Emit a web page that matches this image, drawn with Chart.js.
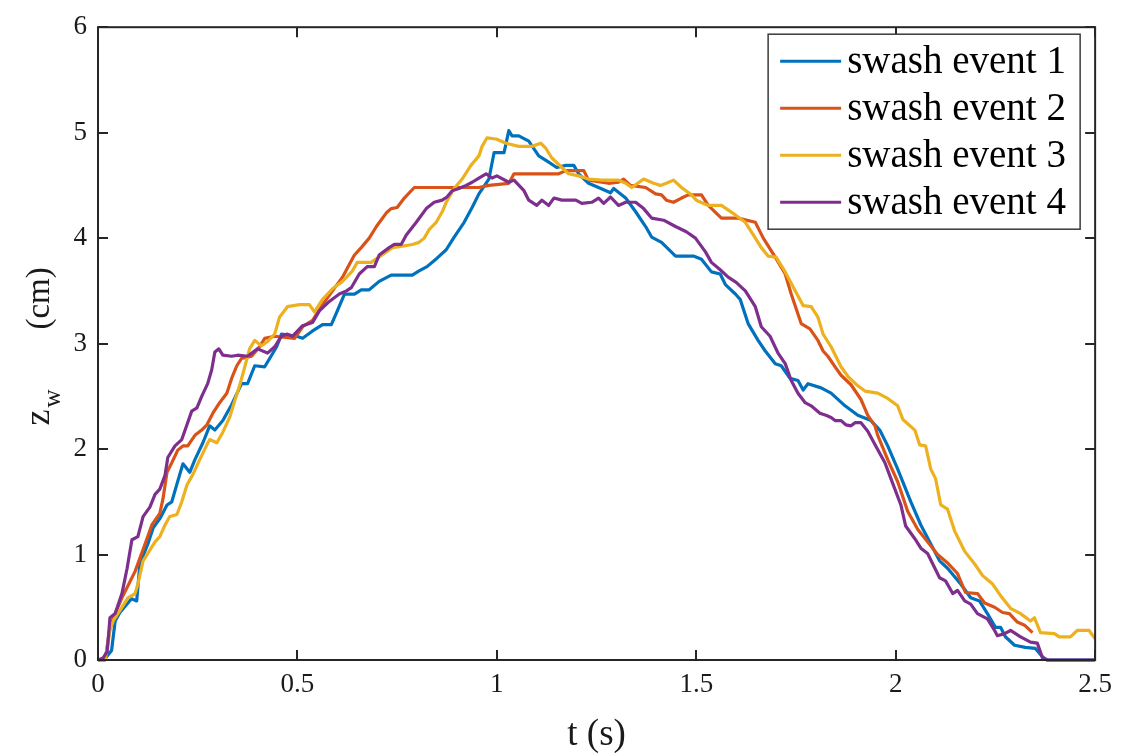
<!DOCTYPE html>
<html><head><meta charset="utf-8">
<script src="https://cdn.jsdelivr.net/npm/chart.js@4.4.1/dist/chart.umd.min.js"></script>
<style>html,body{margin:0;padding:0;background:#fff;}#wrap{width:1121px;height:754px;}</style>
</head><body><div id="wrap"><canvas id="c" width="1121" height="754"></canvas></div>
<script>
const seriesLabels = ['swash event 1','swash event 2','swash event 3','swash event 4'];
const seriesColors = ['#0072BD','#D95319','#EDB120','#7E2F8E'];
const xTicks = [0,0.5,1,1.5,2,2.5];
const xTickLabels = ['0','0.5','1','1.5','2','2.5'];
const yTicks = [0,1,2,3,4,5,6];
const xTitle = 't (s)';
const yTitleMain = 'z', yTitleSub = 'w', yTitleUnit = '(cm)';

// [t (s), z_w (cm)]
const swash1 = [[0,0],[0.015,0],[0.034,0.09],[0.043,0.37],[0.055,0.45],[0.084,0.58],[0.097,0.56],[0.105,0.91],[0.125,1.1],[0.138,1.25],[0.155,1.34],[0.173,1.47],[0.185,1.5],[0.198,1.67],[0.213,1.86],[0.23,1.78],[0.243,1.9],[0.263,2.06],[0.28,2.22],[0.293,2.18],[0.313,2.27],[0.335,2.42],[0.36,2.62],[0.375,2.62],[0.393,2.79],[0.418,2.78],[0.448,2.97],[0.46,3.09],[0.498,3.07],[0.513,3.05],[0.538,3.12],[0.563,3.18],[0.585,3.18],[0.6,3.31],[0.618,3.47],[0.643,3.47],[0.66,3.51],[0.68,3.51],[0.705,3.59],[0.735,3.65],[0.788,3.65],[0.805,3.69],[0.825,3.73],[0.85,3.81],[0.873,3.89],[0.893,4.01],[0.918,4.15],[0.938,4.29],[0.955,4.42],[0.98,4.56],[0.993,4.81],[1.018,4.81],[1.03,5.02],[1.038,4.97],[1.055,4.97],[1.08,4.92],[1.105,4.78],[1.13,4.72],[1.15,4.67],[1.173,4.69],[1.193,4.69],[1.205,4.61],[1.23,4.52],[1.255,4.48],[1.285,4.43],[1.293,4.47],[1.323,4.38],[1.348,4.25],[1.373,4.11],[1.388,4.01],[1.413,3.96],[1.448,3.83],[1.493,3.83],[1.513,3.8],[1.538,3.68],[1.56,3.66],[1.573,3.56],[1.598,3.47],[1.61,3.42],[1.63,3.19],[1.655,3.03],[1.673,2.93],[1.698,2.81],[1.713,2.79],[1.735,2.67],[1.755,2.65],[1.768,2.56],[1.78,2.62],[1.813,2.58],[1.838,2.53],[1.873,2.41],[1.905,2.32],[1.938,2.27],[1.96,2.18],[1.98,2.03],[2.005,1.81],[2.038,1.5],[2.063,1.28],[2.088,1.1],[2.11,0.94],[2.13,0.87],[2.163,0.72],[2.188,0.59],[2.21,0.56],[2.23,0.44],[2.25,0.31],[2.263,0.31],[2.275,0.22],[2.298,0.14],[2.325,0.12],[2.35,0.11],[2.368,0.03],[2.38,0],[2.5,0]];

const swash2 = [[0,0],[0.018,0],[0.03,0.31],[0.043,0.44],[0.06,0.59],[0.093,0.84],[0.118,1.1],[0.135,1.28],[0.155,1.39],[0.163,1.53],[0.173,1.78],[0.185,1.87],[0.2,1.99],[0.213,2.03],[0.225,2.03],[0.243,2.13],[0.26,2.18],[0.273,2.23],[0.288,2.34],[0.305,2.44],[0.323,2.53],[0.335,2.67],[0.348,2.79],[0.36,2.86],[0.385,2.88],[0.405,2.97],[0.418,3.05],[0.443,3.07],[0.493,3.05],[0.513,3.16],[0.538,3.22],[0.563,3.37],[0.588,3.5],[0.613,3.63],[0.63,3.75],[0.643,3.84],[0.66,3.91],[0.68,4.0],[0.698,4.11],[0.723,4.24],[0.735,4.28],[0.75,4.29],[0.768,4.38],[0.793,4.48],[0.955,4.48],[0.98,4.5],[1.03,4.52],[1.043,4.61],[1.155,4.61],[1.173,4.64],[1.218,4.64],[1.23,4.55],[1.28,4.52],[1.305,4.53],[1.318,4.56],[1.335,4.5],[1.373,4.48],[1.398,4.42],[1.413,4.41],[1.425,4.36],[1.443,4.34],[1.463,4.38],[1.48,4.41],[1.513,4.41],[1.53,4.31],[1.563,4.19],[1.605,4.19],[1.648,4.15],[1.668,4.0],[1.698,3.82],[1.723,3.66],[1.738,3.47],[1.763,3.19],[1.785,3.14],[1.805,3.03],[1.818,2.93],[1.83,2.88],[1.848,2.78],[1.863,2.7],[1.888,2.61],[1.913,2.47],[1.93,2.32],[1.948,2.22],[1.955,2.13],[1.98,1.9],[2.005,1.69],[2.03,1.41],[2.055,1.24],[2.08,1.12],[2.105,1.0],[2.13,0.92],[2.155,0.82],[2.175,0.64],[2.205,0.63],[2.223,0.54],[2.248,0.5],[2.268,0.45],[2.285,0.44],[2.305,0.36],[2.323,0.33],[2.343,0.26]];

const swash3 = [[0,0],[0.018,0],[0.03,0.28],[0.038,0.37],[0.06,0.5],[0.075,0.59],[0.093,0.63],[0.1,0.72],[0.113,0.94],[0.125,1.01],[0.143,1.12],[0.155,1.17],[0.168,1.28],[0.18,1.36],[0.198,1.38],[0.21,1.5],[0.223,1.66],[0.238,1.76],[0.255,1.9],[0.273,2.04],[0.28,2.09],[0.298,2.06],[0.313,2.16],[0.33,2.3],[0.343,2.46],[0.355,2.6],[0.368,2.78],[0.38,2.95],[0.393,3.03],[0.41,2.98],[0.425,3.02],[0.443,3.09],[0.455,3.25],[0.475,3.35],[0.505,3.37],[0.53,3.37],[0.543,3.3],[0.563,3.42],[0.588,3.52],[0.613,3.59],[0.638,3.69],[0.65,3.77],[0.685,3.77],[0.723,3.87],[0.738,3.91],[0.755,3.92],[0.788,3.94],[0.805,3.96],[0.818,4.0],[0.83,4.08],[0.848,4.15],[0.863,4.25],[0.873,4.34],[0.893,4.47],[0.913,4.56],[0.935,4.69],[0.955,4.78],[0.963,4.87],[0.975,4.95],[0.998,4.94],[1.023,4.9],[1.055,4.87],[1.088,4.87],[1.11,4.9],[1.123,4.85],[1.138,4.76],[1.163,4.67],[1.18,4.61],[1.205,4.59],[1.23,4.56],[1.263,4.55],[1.305,4.55],[1.323,4.52],[1.338,4.48],[1.368,4.56],[1.393,4.52],[1.41,4.5],[1.425,4.52],[1.443,4.55],[1.463,4.48],[1.488,4.41],[1.5,4.36],[1.53,4.31],[1.563,4.31],[1.598,4.22],[1.623,4.15],[1.643,4.03],[1.663,3.91],[1.68,3.83],[1.7,3.82],[1.723,3.68],[1.748,3.5],[1.768,3.36],[1.788,3.35],[1.805,3.25],[1.818,3.09],[1.838,2.97],[1.863,2.78],[1.88,2.69],[1.905,2.6],[1.923,2.55],[1.955,2.53],[1.98,2.48],[2.005,2.41],[2.018,2.28],[2.048,2.18],[2.06,2.04],[2.075,2.03],[2.088,1.81],[2.1,1.72],[2.113,1.47],[2.13,1.43],[2.148,1.22],[2.173,1.03],[2.198,0.91],[2.218,0.8],[2.243,0.72],[2.263,0.61],[2.288,0.49],[2.313,0.44],[2.338,0.37],[2.348,0.4],[2.363,0.26],[2.398,0.25],[2.41,0.22],[2.438,0.22],[2.455,0.28],[2.485,0.28],[2.5,0.2]];

const swash4 = [[0,0],[0.013,0.02],[0.023,0.08],[0.03,0.4],[0.043,0.44],[0.06,0.63],[0.073,0.87],[0.085,1.14],[0.1,1.17],[0.113,1.36],[0.13,1.45],[0.143,1.57],[0.155,1.62],[0.168,1.75],[0.175,1.92],[0.193,2.03],[0.21,2.09],[0.223,2.23],[0.235,2.36],[0.248,2.39],[0.26,2.5],[0.275,2.62],[0.285,2.75],[0.293,2.92],[0.303,2.95],[0.313,2.89],[0.335,2.88],[0.35,2.89],[0.375,2.88],[0.4,2.95],[0.425,2.91],[0.443,2.97],[0.46,3.07],[0.473,3.09],[0.488,3.07],[0.513,3.17],[0.538,3.2],[0.555,3.31],[0.58,3.4],[0.605,3.47],[0.623,3.5],[0.635,3.53],[0.655,3.66],[0.675,3.73],[0.693,3.73],[0.705,3.84],[0.73,3.91],[0.743,3.94],[0.76,3.94],[0.773,4.03],[0.798,4.15],[0.823,4.28],[0.843,4.34],[0.863,4.36],[0.875,4.39],[0.888,4.45],[0.905,4.47],[0.923,4.5],[0.938,4.53],[0.955,4.57],[0.973,4.61],[0.988,4.57],[1.0,4.59],[1.03,4.53],[1.043,4.55],[1.068,4.45],[1.08,4.36],[1.1,4.31],[1.113,4.36],[1.13,4.31],[1.143,4.38],[1.163,4.36],[1.198,4.36],[1.213,4.33],[1.238,4.34],[1.255,4.38],[1.268,4.33],[1.285,4.39],[1.305,4.31],[1.323,4.34],[1.348,4.34],[1.368,4.28],[1.388,4.19],[1.418,4.17],[1.448,4.11],[1.475,4.06],[1.498,4.0],[1.523,3.87],[1.538,3.77],[1.56,3.7],[1.58,3.63],[1.6,3.58],[1.623,3.5],[1.648,3.35],[1.663,3.16],[1.685,3.07],[1.705,2.91],[1.723,2.81],[1.738,2.65],[1.755,2.53],[1.773,2.44],[1.788,2.41],[1.81,2.34],[1.825,2.32],[1.838,2.3],[1.848,2.27],[1.863,2.27],[1.875,2.23],[1.888,2.22],[1.898,2.25],[1.913,2.25],[1.93,2.17],[1.95,2.03],[1.973,1.87],[1.988,1.72],[2.013,1.47],[2.025,1.27],[2.048,1.15],[2.063,1.06],[2.08,1.01],[2.093,0.91],[2.11,0.78],[2.125,0.75],[2.143,0.63],[2.155,0.66],[2.173,0.56],[2.188,0.53],[2.205,0.44],[2.23,0.39],[2.248,0.28],[2.255,0.23],[2.273,0.25],[2.288,0.28],[2.313,0.22],[2.338,0.17],[2.355,0.16],[2.368,0.02],[2.38,0],[2.5,0]];

const seriesData = [swash1, swash2, swash3, swash4];
const SERIF = "'Liberation Serif','Times New Roman',serif";
const AXIS_COLOR = '#262626';

const matlabAxes = {
  id: 'matlabAxes',
  afterDatasetsDraw(chart) {
    const {ctx, chartArea: a, scales: {x, y}} = chart;
    ctx.save();
    ctx.strokeStyle = AXIS_COLOR;
    ctx.lineWidth = 2;
    const tl = 10;
    ctx.beginPath();
    xTicks.forEach(v => {
      const px = Math.round(x.getPixelForValue(v));
      ctx.moveTo(px, a.bottom); ctx.lineTo(px, a.bottom - tl);
      ctx.moveTo(px, a.top); ctx.lineTo(px, a.top + tl);
    });
    yTicks.forEach(v => {
      const py = Math.round(y.getPixelForValue(v));
      ctx.moveTo(a.left, py); ctx.lineTo(a.left + tl, py);
      ctx.moveTo(a.right, py); ctx.lineTo(a.right - tl, py);
    });
    ctx.stroke();
    ctx.strokeRect(a.left, a.top, a.right - a.left, a.bottom - a.top);
    ctx.restore();
  },
  afterDraw(chart) {
    const {ctx, chartArea: a} = chart;
    ctx.save();
    // y-axis title with subscript, placed along the rotated baseline
    const cy = (a.top + a.bottom) / 2;
    ctx.translate(49, cy + 82);
    ctx.rotate(-Math.PI / 2);
    ctx.fillStyle = '#1a1a1a';
    ctx.textBaseline = 'alphabetic';
    ctx.textAlign = 'left';
    ctx.font = '36px ' + SERIF;
    ctx.fillText(yTitleMain, 0, 0);
    const wMain = ctx.measureText(yTitleMain).width;
    ctx.font = '25px ' + SERIF;
    ctx.fillText(yTitleSub, wMain + 2, 11);
    ctx.font = '33px ' + SERIF;
    ctx.fillText(yTitleUnit, 96, 0);
    ctx.restore();

    // legend box
    ctx.save();
    const bx = a.right - 327, by = a.top + 7, bw = 312, bh = 195;
    ctx.fillStyle = '#ffffff';
    ctx.fillRect(bx, by, bw, bh);
    ctx.strokeStyle = '#3a3a3a';
    ctx.lineWidth = 1.5;
    ctx.strokeRect(bx, by, bw, bh);
    ctx.font = '39px ' + SERIF;
    ctx.textBaseline = 'middle';
    ctx.textAlign = 'left';
    chart.data.datasets.forEach((ds, i) => {
      const ly = by + 27 + i * 47;
      ctx.strokeStyle = ds.borderColor;
      ctx.lineWidth = 3;
      ctx.beginPath(); ctx.moveTo(bx + 12, ly); ctx.lineTo(bx + 73, ly); ctx.stroke();
      ctx.fillStyle = '#000000';
      ctx.fillText(ds.label, bx + 79, ly + 2);
    });
    ctx.restore();
  }
};

new Chart(document.getElementById('c'), {
  type: 'line',
  data: {
    datasets: seriesData.map((s, i) => ({
      label: seriesLabels[i],
      data: s.map(p => ({x: p[0], y: p[1]})),
      borderColor: seriesColors[i],
      backgroundColor: seriesColors[i],
      borderWidth: 3.2,
      pointRadius: 0,
      tension: 0,
      fill: false,
      order: 4 - i,
      clip: 4,
      borderJoinStyle: 'round'
    }))
  },
  options: {
    responsive: false,
    animation: false,
    devicePixelRatio: 1,
    layout: {padding: {left: 0, top: 20, right: 24, bottom: 0}},
    plugins: {legend: {display: false}, tooltip: {enabled: false}},
    scales: {
      x: {
        type: 'linear', min: 0, max: 2.5,
        afterBuildTicks: s => { s.ticks = xTicks.map(v => ({value: v})); },
        afterFit: s => { s.height = 94; },
        grid: {display: false, drawTicks: false},
        border: {display: false},
        ticks: {
          padding: 9, color: '#1a1a1a', maxRotation: 0,
          font: {family: SERIF, size: 27},
          callback: (v) => xTickLabels[xTicks.indexOf(v)] ?? ''
        },
        title: {display: true, text: xTitle, color: '#1a1a1a',
          font: {family: SERIF, size: 37, lineHeight: 1}, padding: {top: 0, bottom: 0}}
      },
      y: {
        type: 'linear', min: 0, max: 6,
        afterBuildTicks: s => { s.ticks = yTicks.map(v => ({value: v})); },
        afterFit: s => { s.width = 98; },
        grid: {display: false, drawTicks: false},
        border: {display: false},
        ticks: {padding: 11, color: '#1a1a1a', font: {family: SERIF, size: 27}}
      }
    }
  },
  plugins: [matlabAxes]
});
</script></body></html>
